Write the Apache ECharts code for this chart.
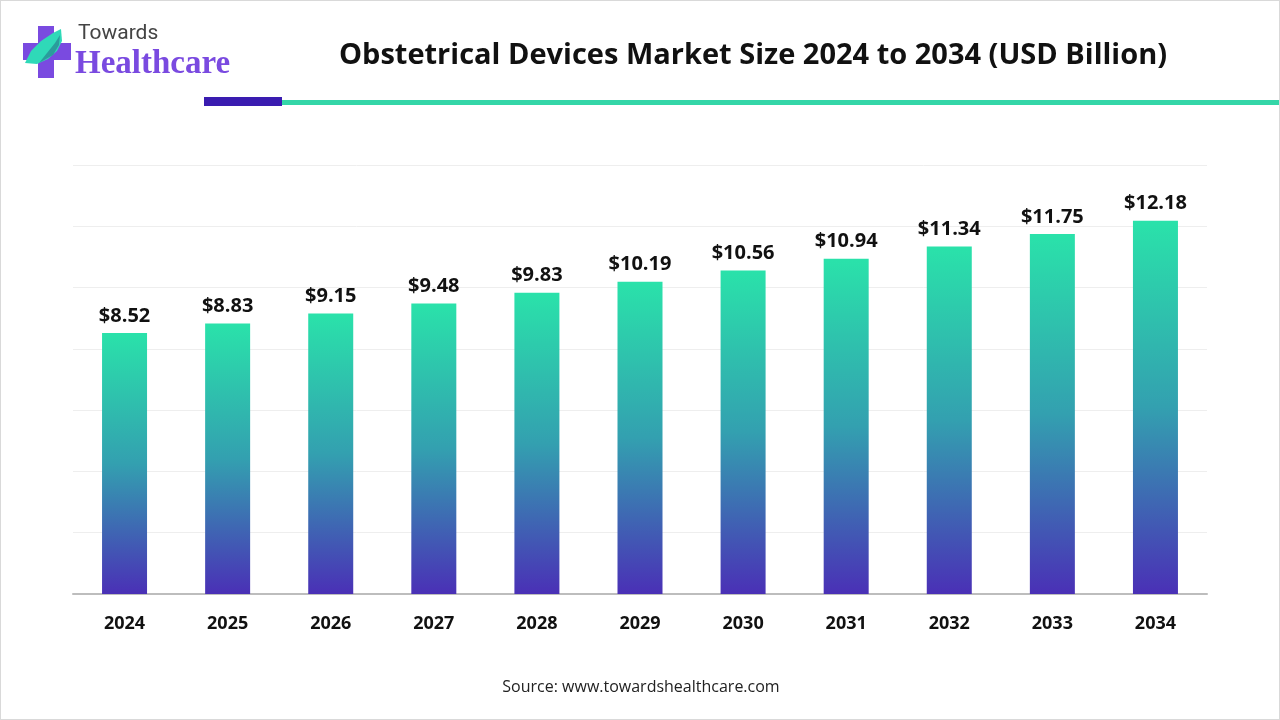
<!DOCTYPE html>
<html>
<head>
<meta charset="utf-8">
<script src="https://cdn.jsdelivr.net/npm/echarts@6/dist/echarts.min.js"></script>
<style>
html,body{margin:0;padding:0;background:#fff;}
#chart{width:1280px;height:720px;box-sizing:border-box;border:1px solid #d9d9d9;}
</style>
</head>
<body>
<div id="chart"></div>
<script>
const years = ['2024','2025','2026','2027','2028','2029','2030','2031','2032','2033','2034'];
const marketSize = [8.52, 8.83, 9.15, 9.48, 9.83, 10.19, 10.56, 10.94, 11.34, 11.75, 12.18];
const titleText = 'Obstetrical Devices Market Size 2024 to 2034 (USD Billion)';
const sourceText = 'Source: www.towardshealthcare.com';

const chart = echarts.init(document.getElementById('chart'));
chart.setOption({
  backgroundColor: '#fff',
  animation: false,
  title: {
    text: titleText,
    left: 747, top: 35, textAlign: 'center',
    textStyle: {fontFamily: 'Open Sans', fontWeight: 'bold', fontSize: 29, color: '#111'}
  },
  graphic: [
    {type: 'rect', shape: {x: 203, y: 96, width: 78, height: 9}, style: {fill: '#3a1cb0'}},
    {type: 'rect', shape: {x: 281, y: 99, width: 1000, height: 5}, style: {fill: '#34d6a8'}},
    {type: 'rect', shape: {x: 37, y: 25, width: 16, height: 52}, style: {fill: '#7a4ae0'}},
    {type: 'rect', shape: {x: 22, y: 42, width: 48, height: 17}, style: {fill: '#7a4ae0'}},
    {type: 'polygon', shape: {points: [[24,62],[30,50],[40,40],[52,32],[60,28],[61,40],[56,50],[47,58],[36,63]]}, style: {fill: '#2fd9b8'}},
    {type: 'polygon', shape: {points: [[38,62],[46,52],[54,42],[59,34],[58,44],[52,54]]}, style: {fill: '#2a9c9c'}},
    {type: 'text', style: {x: 77, y: 22, text: 'Towards', fontFamily: 'Roboto', fontSize: 21, fill: '#444'}},
    {type: 'text', style: {x: 74, y: 47, text: 'Healthcare', fontFamily: 'Liberation Serif', fontWeight: 'bold', fontSize: 33, fill: '#7a4ae0'}},
    {type: 'text', style: {x: 640, y: 678, text: sourceText, textAlign: 'center', fontFamily: 'Open Sans', fontSize: 16, fill: '#222'}}
  ],
  grid: {left: 72, right: 72, top: 164, bottom: 125},
  xAxis: {
    type: 'category', data: years,
    axisLine: {lineStyle: {color: '#bdbdbd', width: 2}},
    axisTick: {show: false},
    axisLabel: {margin: 21, fontFamily: 'Open Sans', fontWeight: 'bold', fontSize: 18, color: '#111'}
  },
  yAxis: {
    type: 'value', min: 0, max: 14, interval: 2,
    axisLabel: {show: false}, axisLine: {show: false}, axisTick: {show: false},
    splitLine: {lineStyle: {color: '#eeeeee', width: 1}}
  },
  series: [{
    type: 'bar', data: marketSize, barWidth: 45,
    itemStyle: {
      color: {type: 'linear', x: 0, y: 0, x2: 0, y2: 1, colorStops: [
        {offset: 0, color: '#2ae2aa'},
        {offset: 0.5, color: '#33a0b0'},
        {offset: 1, color: '#4a30b6'}
      ]}
    },
    label: {
      show: true, position: 'top', distance: 7,
      formatter: p => '$' + p.value.toFixed(2),
      fontFamily: 'Open Sans', fontWeight: 'bold', fontSize: 20, color: '#111'
    }
  }]
});
</script>
</body>
</html>
